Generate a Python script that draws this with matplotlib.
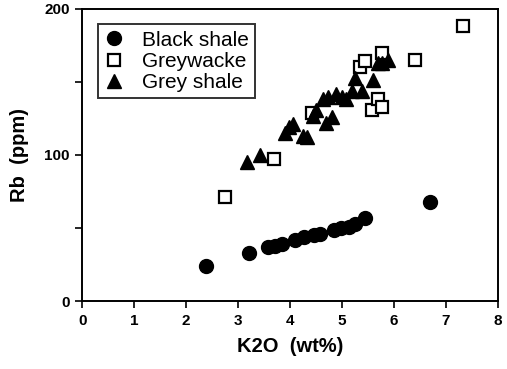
import matplotlib
matplotlib.use("Agg")
import matplotlib.pyplot as plt

# Black shale
bs_k2o = [2.38, 3.21, 3.57, 3.72, 3.84, 4.10, 4.27, 4.46, 4.57, 4.84, 4.99, 5.14, 5.26, 5.44, 6.69]
bs_rb = [24, 33, 37, 38, 39, 42, 44, 45, 46, 49, 50, 51, 53, 57, 68]

# Greywacke
gw_k2o = [2.74, 3.69, 4.42, 5.35, 5.45, 5.58, 5.69, 5.77, 5.77, 6.41, 7.32]
gw_rb = [71, 97, 129, 160, 164, 131, 138, 133, 170, 165, 188]

# Grey shale
gs_k2o = [3.18, 3.42, 3.91, 3.99, 4.05, 4.25, 4.33, 4.45, 4.50, 4.63, 4.69, 4.74,
          4.80, 4.88, 5.00, 5.07, 5.20, 5.26, 5.39, 5.60, 5.69, 5.77, 5.88]
gs_rb = [95, 100, 115, 119, 121, 113, 112, 127, 131, 138, 122, 140,
         126, 142, 140, 138, 144, 153, 144, 151, 163, 163, 165]

plt.rcParams['font.family'] = ['Liberation Sans', 'DejaVu Sans']

fig = plt.figure(figsize=(5.07, 3.69), dpi=100)
ax = fig.add_axes([0.162, 0.184, 0.82, 0.792])

ax.plot(bs_k2o, bs_rb, 'o', color='black', markersize=10, label='Black shale')
ax.plot(gw_k2o, gw_rb, 's', markerfacecolor='white', markeredgecolor='black',
        markeredgewidth=1.6, markersize=9, label='Greywacke')
ax.plot(gs_k2o, gs_rb, '^', color='black', markersize=10, label='Grey shale')

ax.set_xlim(0, 8)
ax.set_ylim(0, 200)
ax.set_xticks(range(0, 9))
ax.set_yticks([0, 100, 200])
ax.set_yticks([50, 150], minor=True)
ax.tick_params(axis='both', which='both', direction='out', length=5, width=1.2,
               labelsize=11, pad=4)
for lbl in ax.get_xticklabels() + ax.get_yticklabels():
    lbl.set_fontweight('bold')
for s in ax.spines.values():
    s.set_linewidth(1.4)

ax.set_xlabel('K2O  (wt%)', fontsize=14.5, fontweight='bold', labelpad=7)
ax.set_ylabel('Rb  (ppm)', fontsize=14.5, fontweight='bold', labelpad=11)

leg = ax.legend(loc='upper left', fontsize=15, frameon=True, fancybox=False,
                edgecolor='black', handletextpad=0.8, borderpad=0.3,
                labelspacing=0.1, handlelength=1.0, borderaxespad=0.75)
leg.get_frame().set_linewidth(1.4)

fig.savefig('out.png', dpi=100)
